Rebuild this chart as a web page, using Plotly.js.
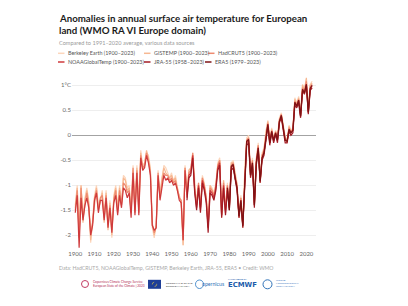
<!DOCTYPE html>
<html>
<head>
<meta charset="utf-8">
<script src="https://cdn.plot.ly/plotly-3.0.1.min.js"></script>
<style>
  html, body { margin: 0; padding: 0; background: #ffffff; }
  #chart { width: 408px; height: 306px; }
</style>
</head>
<body>
<div id="chart"></div>
<script>
// Annual surface air temperature anomalies over European land (°C vs 1991–2020)

const seriesNames = [
  "Berkeley Earth (1900–2023)",
  "GISTEMP (1900–2023)",
  "HadCRUT5 (1900–2023)",
  "NOAAGlobalTemp (1900–2023)",
  "JRA-55 (1958–2023)",
  "ERA5 (1979–2023)"
];
const seriesFirstYear = [1900, 1900, 1900, 1900, 1958, 1979];
const seriesColors = ["#fcd6bc", "#f7b892", "#ee8a70", "#cf3a3c", "#a31b24", "#7e1214"];

const berkeleyEarth = [
  -1.40, -1.00, -1.85, -1.00, -1.60, -1.25, -1.05, -1.30, -2.15, -1.65,
  -1.20, -1.00, -1.40, -1.30, -1.10, -1.65, -1.10, -1.85, -1.30, -2.05,
  -1.20, -1.00, -1.45, -1.00, -1.35, -0.80, -0.85, -1.05, -1.00, -1.50,
  -0.60, -1.45, -0.60, -1.45, -0.30, -0.60, -0.55, -0.35, -0.40, -0.65,
  -1.85, -2.05, -1.75, -0.70, -1.20, -0.90, -0.60, -0.65, -0.75, -0.85,
  -0.75, -0.95, -0.80, -1.05, -1.25, -1.30, -2.20, -0.60, -1.15, -0.70,
  -0.65, -0.35, -1.00, -1.40, -0.95, -1.40, -0.80, -0.95, -1.20, -1.80,
  -1.00, -1.05, -1.15, -0.95, -0.55, -0.45, -1.60, -0.90, -1.45, -0.95,
  -1.40, -0.55, -0.50, -0.75, -0.95, -1.60, -1.20, -1.80, -0.70, -0.05,
   0.00, -0.70, -0.45, -1.30, -0.45, -0.15, -0.90, -0.35, -0.25,  0.08,
   0.30, -0.08,  0.15, -0.05,  0.10, -0.02,  0.35,  0.45,  0.22, -0.02,
  -0.10,  0.20,  0.10,  0.15,  0.75,  0.65,  0.78,  0.45,  1.02,  0.92,
   1.12,  0.52,  1.02,  1.08
];

const gistemp = [
  -1.45, -1.05, -1.95, -1.00, -1.75, -1.30, -1.10, -1.35, -2.10, -1.70,
  -1.30, -1.05, -1.45, -1.35, -1.15, -1.75, -1.15, -1.90, -1.35, -2.00,
  -1.25, -1.05, -1.50, -1.05, -1.40, -0.85, -0.90, -1.10, -1.05, -1.55,
  -0.70, -1.50, -0.65, -1.50, -0.35, -0.70, -0.55, -0.30, -0.45, -0.70,
  -1.75, -2.00, -1.80, -0.85, -1.20, -0.85, -0.65, -0.75, -0.80, -0.85,
  -0.80, -0.90, -0.85, -1.10, -1.20, -1.35, -2.20, -0.65, -1.15, -0.70,
  -0.65, -0.40, -1.05, -1.35, -1.00, -1.45, -0.85, -1.00, -1.25, -1.80,
  -1.00, -1.10, -1.20, -1.00, -0.60, -0.50, -1.65, -0.90, -1.50, -1.00,
  -1.45, -0.55, -0.55, -0.80, -1.00, -1.65, -1.25, -1.85, -0.75, -0.10,
  -0.05, -0.80, -0.50, -1.40, -0.50, -0.20, -0.95, -0.40, -0.30,  0.05,
   0.28, -0.10,  0.12, -0.10,  0.08, -0.05,  0.32,  0.40,  0.20, -0.05,
  -0.15,  0.18,  0.05,  0.12,  0.72,  0.60,  0.75,  0.42,  1.00,  0.90,
   1.15,  0.50,  1.00,  1.05
];

const hadcrut5 = [
  -1.50, -1.10, -2.05, -1.05, -1.65, -1.35, -1.15, -1.40, -1.95, -1.75,
  -1.25, -1.10, -1.50, -1.25, -1.20, -1.65, -1.20, -1.80, -1.40, -1.90,
  -1.30, -1.10, -1.55, -1.10, -1.40, -0.95, -1.00, -1.15, -1.10, -1.55,
  -0.65, -1.55, -0.70, -1.55, -0.40, -0.65, -0.60, -0.35, -0.50, -0.75,
  -1.80, -1.95, -1.85, -0.75, -1.25, -0.95, -0.75, -0.80, -0.80, -0.90,
  -0.85, -0.95, -0.90, -1.05, -1.25, -1.30, -2.10, -0.65, -1.20, -0.75,
  -0.70, -0.35, -1.05, -1.40, -0.95, -1.45, -0.85, -1.00, -1.25, -1.85,
  -1.05, -1.10, -1.20, -1.00, -0.60, -0.50, -1.60, -0.95, -1.50, -1.00,
  -1.40, -0.60, -0.55, -0.80, -1.00, -1.60, -1.25, -1.80, -0.75, -0.10,
  -0.05, -0.75, -0.50, -1.35, -0.50, -0.20, -0.95, -0.40, -0.30,  0.03,
   0.25, -0.12,  0.10, -0.08,  0.07, -0.08,  0.30,  0.42,  0.18, -0.08,
  -0.12,  0.15,  0.08,  0.12,  0.68,  0.62,  0.72,  0.40,  0.95,  0.88,
   1.08,  0.48,  0.97,  1.02
];

const noaaGlobalTemp = [
  -1.55, -1.20, -2.25, -1.25, -1.70, -1.40, -1.25, -1.45, -2.00, -1.80,
  -1.30, -1.15, -1.55, -1.30, -1.30, -1.70, -1.25, -1.85, -1.45, -1.95,
  -1.35, -1.20, -1.60, -1.20, -1.45, -1.05, -1.10, -1.25, -1.15, -1.65,
  -0.75, -1.60, -0.75, -1.60, -0.45, -0.70, -0.65, -0.40, -0.55, -0.80,
  -1.80, -1.90, -1.85, -0.80, -1.30, -1.00, -0.80, -0.90, -0.85, -0.95,
  -0.90, -1.00, -0.95, -1.10, -1.30, -1.35, -2.10, -0.70, -1.25, -0.80,
  -0.75, -0.40, -1.10, -1.45, -1.00, -1.50, -0.90, -1.05, -1.30, -1.85,
  -1.10, -1.15, -1.25, -1.05, -0.65, -0.55, -1.60, -1.00, -1.55, -1.05,
  -1.45, -0.65, -0.60, -0.85, -1.05, -1.60, -1.30, -1.80, -0.80, -0.15,
  -0.10, -0.80, -0.55, -1.40, -0.55, -0.25, -0.90, -0.45, -0.35,  0.00,
   0.22, -0.15,  0.08, -0.12,  0.05, -0.10,  0.28,  0.38,  0.15, -0.10,
  -0.10,  0.12,  0.05,  0.10,  0.65,  0.58,  0.70,  0.38,  0.90,  0.85,
   1.02,  0.45,  0.92,  0.98
];

const jra55 = [
                                                          -1.30, -0.85,
  -0.80, -0.45, -1.15, -1.50, -1.05, -1.55, -0.95, -1.10, -1.35, -1.95,
  -1.15, -1.20, -1.30, -1.10, -0.70, -0.60, -1.65, -1.05, -1.60, -1.10,
  -1.50, -0.70, -0.65, -0.90, -1.10, -1.65, -1.35, -1.85, -0.85, -0.20,
  -0.15, -0.85, -0.60, -1.45, -0.60, -0.30, -0.95, -0.50, -0.40, -0.05,
   0.18, -0.20,  0.05, -0.15,  0.02, -0.15,  0.25,  0.35,  0.12, -0.15,
  -0.15,  0.08,  0.00,  0.05,  0.60,  0.55,  0.65,  0.35,  0.88,  0.82,
   1.00,  0.42,  0.90,  0.95
];

const era5 = [
                                                                 -1.05,
  -1.50, -0.62, -0.58, -0.85, -1.05, -1.62, -1.30, -1.82, -0.80, -0.12,
  -0.08, -0.80, -0.55, -1.40, -0.55, -0.25, -0.92, -0.45, -0.35,  0.00,
   0.22, -0.15,  0.08, -0.10,  0.05, -0.10,  0.28,  0.40,  0.15, -0.10,
  -0.12,  0.12,  0.05,  0.10,  0.66,  0.58,  0.70,  0.38,  0.92,  0.85,
   1.02,  0.46,  0.94,  1.00
];

const seriesValues = [berkeleyEarth, gistemp, hadcrut5, noaaGlobalTemp, jra55, era5];

const xTickYears = [1900, 1910, 1920, 1930, 1940, 1950, 1960, 1970, 1980, 1990, 2000, 2010, 2020];
const yTickValues = [-2, -1.5, -1, -0.5, 0, 0.5, 1];
const yTickLabels = ["-2", "-1.5", "-1", "-0.5", "0", "0.5", "1°C"];

const titleLines = [
  "Anomalies in annual surface air temperature for European",
  "land (WMO RA VI Europe domain)"
];
const subtitle = "Compared to 1991–2020 average, various data sources";
const footnote = "Data: HadCRUT5, NOAAGlobalTemp, GISTEMP, Berkeley Earth, JRA-55, ERA5 • Credit: WMO";

// ---- page geometry (pixels) ----
const W = 408, H = 306;
const M = { l: 72, r: 92, t: 75, b: 57 };
const PW = W - M.l - M.r, PH = H - M.t - M.b;
const px = x => (x - M.l) / PW;          // page x -> paper x
const py = y => (H - M.b - y) / PH;      // page y -> paper y

const FONT = "Lato, 'Open Sans', sans-serif";

const traces = seriesValues.map((vals, i) => ({
  type: "scatter",
  mode: "lines",
  name: seriesNames[i],
  x: vals.map((_, k) => seriesFirstYear[i] + k),
  y: vals,
  line: { color: seriesColors[i], width: 1.2 },
  showlegend: false,
  hoverinfo: "skip"
}));

const annotations = [];
const shapes = [];
const txt = (text, x, y, size, color, family) => annotations.push({
  text, xref: "paper", yref: "paper", x: px(x), y: py(y),
  xanchor: "left", yanchor: "middle", showarrow: false,
  font: { family: family || FONT, size, color }
});

// title, subtitle
txt("<b>" + titleLines[0] + "</b>", 57, 17.5, 9.7, "#1b1b1b");
txt("<b>" + titleLines[1] + "</b>", 57, 29.8, 9.7, "#1b1b1b");
txt(subtitle, 57, 42.8, 5.6, "#9a9a9a");

// legend, two rows of three
const legendPos = [[58, 53.3], [144, 53.3], [208, 53.3], [58, 62], [144, 62], [205, 62]];
seriesNames.forEach((name, i) => {
  const [lx, ly] = legendPos[i];
  shapes.push({
    type: "line", xref: "paper", yref: "paper",
    x0: px(lx), x1: px(lx + 6.5), y0: py(ly), y1: py(ly),
    line: { color: seriesColors[i], width: 1.5 }
  });
  txt(name, lx + 7.5, ly, 5.4, "#555555");
});

// source line
txt(footnote, 57, 268.3, 5.2, "#a8a8a8");

// partner logos row
shapes.push({ type: "circle", xref: "paper", yref: "paper",
  x0: px(81.5), x1: px(88.5), y0: py(287.5), y1: py(280.5),
  line: { color: "#c23b62", width: 1 } });
txt("Copernicus Climate Change Service", 90.5, 282.3, 3.2, "#b32c55");
txt("European State of the Climate | 2023", 90.5, 286.2, 3.2, "#b32c55");

shapes.push({ type: "rect", xref: "paper", yref: "paper",
  x0: px(148), x1: px(161), y0: py(288.8), y1: py(279.8),
  fillcolor: "#1f3f97", line: { width: 0 } });
shapes.push({ type: "circle", xref: "paper", yref: "paper",
  x0: px(152.3), x1: px(156.7), y0: py(286.5), y1: py(282.1),
  line: { color: "#f2d13a", width: 0.6, dash: "dot" } });
txt("PROGRAMME OF THE", 163.5, 282.5, 2.6, "#333333");
txt("EUROPEAN UNION", 163.5, 285.8, 2.6, "#333333");

shapes.push({ type: "circle", xref: "paper", yref: "paper",
  x0: px(195.5), x1: px(203.5), y0: py(288.5), y1: py(280),
  line: { color: "#3f86c8", width: 0.9 } });
txt("opernicus", 199.5, 284.2, 5.2, "#2f72b8");

txt("<b>ECMWF</b>", 225.5, 285.2, 6.9, "#1b5cab", "'DejaVu Sans', sans-serif");
txt("IMPLEMENTED BY", 226, 279.2, 2.2, "#1b5cab");

shapes.push({ type: "circle", xref: "paper", yref: "paper",
  x0: px(263), x1: px(272), y0: py(288.8), y1: py(279.8),
  line: { color: "#2f72b8", width: 1 } });
txt("WORLD", 274, 280.8, 2.5, "#3a78c2");
txt("METEOROLOGICAL", 274, 283.8, 2.5, "#3a78c2");
txt("ORGANIZATION", 274, 286.8, 2.5, "#3a78c2");

const layout = {
  width: W, height: H,
  margin: M,
  paper_bgcolor: "#ffffff",
  plot_bgcolor: "#ffffff",
  showlegend: false,
  font: { family: FONT, size: 6, color: "#666666" },
  xaxis: {
    range: [1898.3, 2025.0],
    tickmode: "array",
    tickvals: xTickYears,
    ticktext: xTickYears.map(String),
    showgrid: false, zeroline: false, showline: false,
    ticks: "", ticklabelstandoff: 0,
    tickfont: { family: FONT, size: 6, color: "#666666" }
  },
  yaxis: {
    range: [-2.274, 1.206],
    tickmode: "array",
    tickvals: yTickValues,
    ticktext: yTickLabels,
    showgrid: true, gridcolor: "#eeeeee", gridwidth: 1,
    zeroline: true, zerolinecolor: "#a3a3a3", zerolinewidth: 1.3,
    showline: false, ticks: "",
    tickfont: { family: FONT, size: 6, color: "#666666" }
  },
  annotations,
  shapes
};

Plotly.newPlot("chart", traces, layout, { staticPlot: true, displayModeBar: false });
</script>
</body>
</html>
